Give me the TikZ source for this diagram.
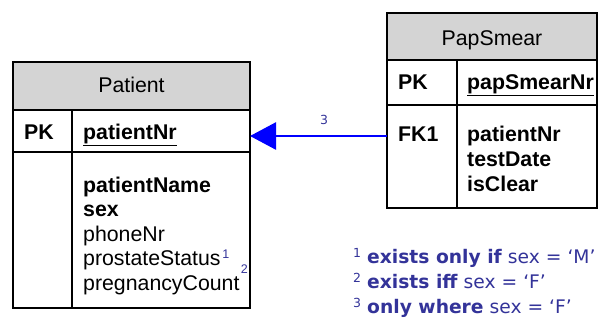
\documentclass[tikz,border=0pt]{standalone}
\usepackage{fontspec}
\setmainfont{Liberation Sans}
\newfontfamily\notefont{DejaVu Sans}
\usetikzlibrary{arrows.meta}
\definecolor{hdr}{RGB}{212,212,212}
\definecolor{note}{RGB}{51,51,153}
\definecolor{fkblue}{RGB}{0,0,255}
\newcommand{\boxfont}{\fontsize{21.3}{24}\selectfont}
\begin{document}
\begin{tikzpicture}[x=1pt,y=-1pt,
  boxline/.style={line width=1.3pt,black},
  txt/.style={anchor=base west,inner sep=0pt,font=\boxfont},
  btxt/.style={anchor=base west,inner sep=0pt,font=\bfseries\boxfont},
  ttl/.style={anchor=base,inner sep=0pt,font=\boxfont},
  sup/.style={anchor=base west,inner sep=0pt,text=note,font=\fontsize{12.5}{14}\selectfont},
  notetxt/.style={anchor=base west,inner sep=0pt,text=note,font=\notefont\fontsize{18.7}{22}\selectfont},
  notesup/.style={anchor=base west,inner sep=0pt,text=note,font=\notefont\fontsize{12.5}{14}\selectfont},
  fkarrow/.style={draw=fkblue,line width=2.6pt,-{Triangle[length=26pt,width=27pt]}}]
\useasboundingbox (0,0) rectangle (598,322);
% ---- Patient entity
\fill[hdr] (13,62) rectangle (250,110);
\draw[boxline] (13,62) rectangle (250,308);
\draw[boxline] (13,110) -- (250,110);
\draw[boxline] (13,152) -- (250,152);
\draw[boxline] (72,110) -- (72,308);
\node[ttl] (ptitle) at (131.5,92) {Patient};
\node[btxt] (ppk) at (24,139) {PK};
\node[btxt] (ppkname) at (83,139) {\underline{patientNr}};
\node[btxt] (pname) at (83,192) {patientName};
\node[btxt] (psex) at (83,216) {sex};
\node[txt] (pphone) at (83,241) {phoneNr};
\node[txt] (pprost) at (83,265) {prostateStatus};
\node[txt] (ppreg) at (83,290) {pregnancyCount};
\node[sup] (s1) at (pprost.base east) [xshift=1.5pt,yshift=7pt] {1};
\node[sup] (s2) at (ppreg.base east) [xshift=1pt,yshift=17pt] {2};
% ---- PapSmear entity
\fill[hdr] (387,13) rectangle (597,60);
\draw[boxline] (387,13) rectangle (597,208);
\draw[boxline] (387,60) -- (597,60);
\draw[boxline] (387,105) -- (597,105);
\draw[boxline] (457,60) -- (457,208);
\node[ttl] (stitle) at (492,45) {PapSmear};
\node[btxt] (spk) at (398,89) {PK};
\node[btxt] (spkname) at (467,89) {\underline{papSmearNr}};
\node[btxt] (sfk) at (398,141) {FK1};
\node[btxt] (sfkname) at (467,141) {patientNr};
\node[btxt] (sdate) at (467,166) {testDate};
\node[btxt] (sclear) at (467,191) {isClear};
% ---- relationship
\coordinate (fkout) at (387,136);
\coordinate (pkin) at (250,136);
\draw[fkarrow] (fkout) -- (pkin);
\node[inner sep=0pt,text=note,font=\notefont\fontsize{12.5}{14}\selectfont] (lbl3) at (324,120) {3};
% ---- notes
\node[notesup] (n1s) at (353,257) {1};
\node[notetxt] (n1) at (367,263) {\textbf{exists only if} sex = ‘M’};
\node[notesup] (n2s) at (353,282) {2};
\node[notetxt] (n2) at (367,288) {\textbf{exists iff} sex = ‘F’};
\node[notesup] (n3s) at (353,307) {3};
\node[notetxt] (n3) at (367,313) {\textbf{only where} sex = ‘F’};
\end{tikzpicture}
\end{document}
